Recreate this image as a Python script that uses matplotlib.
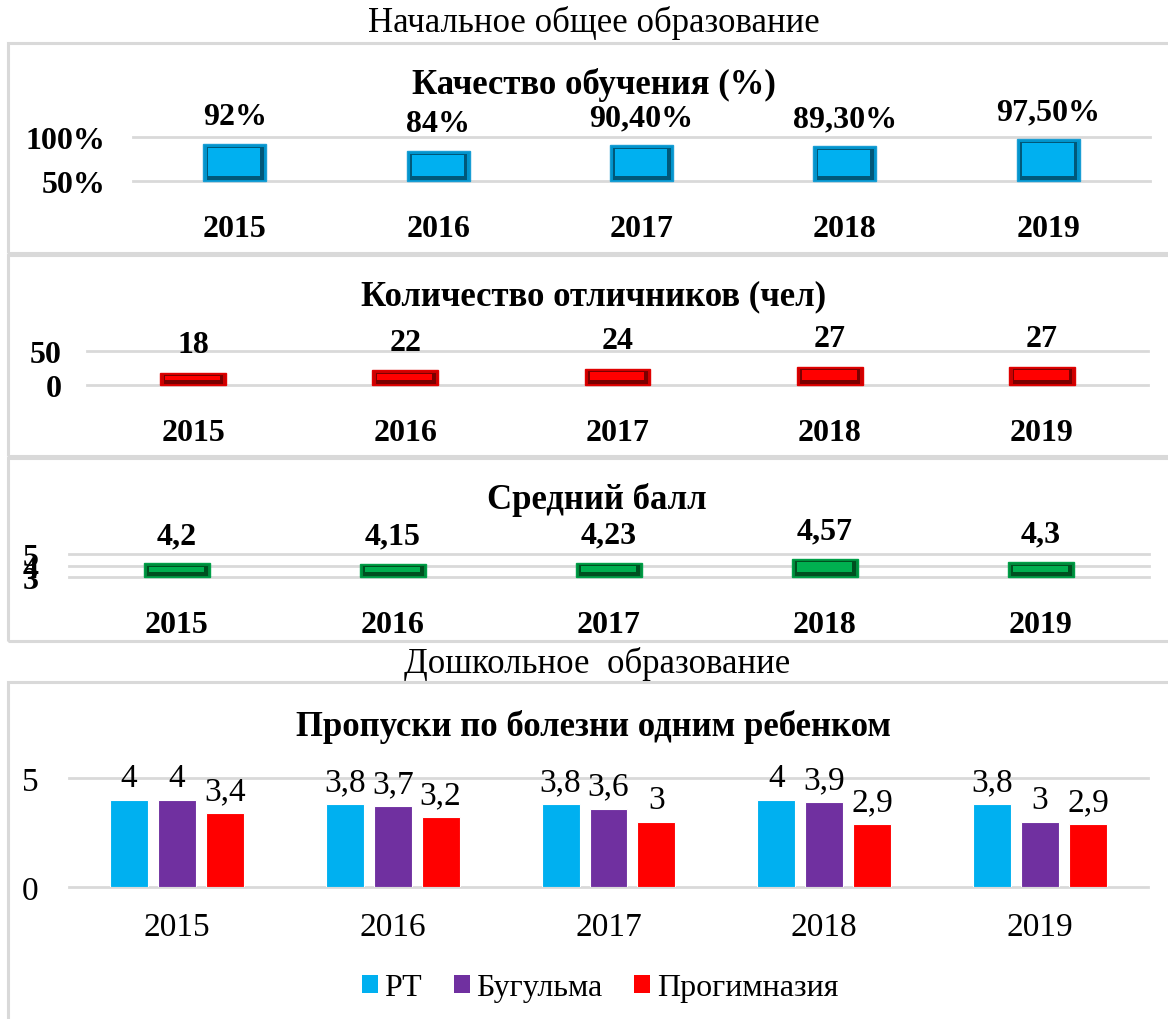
import matplotlib
matplotlib.use('Agg')
import matplotlib.pyplot as plt
from matplotlib.patches import Rectangle, Patch
import numpy as np

# ---------------- data ----------------
years = ['2015', '2016', '2017', '2018', '2019']

quality = [0.92, 0.84, 0.904, 0.893, 0.975]
quality_labels = ['92%', '84%', '90,40%', '89,30%', '97,50%']
quality_ticks = [0.5, 1.0]
quality_ticklabels = ['50%', '100%']

excellent = [18, 22, 24, 27, 27]
excellent_labels = ['18', '22', '24', '27', '27']
excellent_ticks = [0, 50]
excellent_ticklabels = ['0', '50']

avg_score = [4.2, 4.15, 4.23, 4.57, 4.3]
avg_labels = ['4,2', '4,15', '4,23', '4,57', '4,3']
avg_ticks = [3, 4, 5]
avg_ticklabels = ['3', '4', '5']

series_names = ['РТ', 'Бугульма', 'Прогимназия']
rt = [4, 3.8, 3.8, 4, 3.8]
bugulma = [4, 3.7, 3.6, 3.9, 3]
progimn = [3.4, 3.2, 3, 2.9, 2.9]
rt_labels = ['4', '3,8', '3,8', '4', '3,8']
bug_labels = ['4', '3,7', '3,6', '3,9', '3']
prog_labels = ['3,4', '3,2', '3', '2,9', '2,9']
sick_ticks = [0, 5]
sick_ticklabels = ['0', '5']

# ---------------- style ----------------
plt.rcParams['font.family'] = ['Liberation Serif', 'DejaVu Serif']
W, H = 1168, 1020
fig = plt.figure(figsize=(W / 100, H / 100), dpi=100)
fig.patch.set_facecolor('white')

GRID = '#d9d9d9'
CYAN = ('#00b0f0', '#1a9ed4', '#00587a', '#0094cc')
RED = ('#ff0000', '#e00000', '#7a0000', '#cc0000')
GREEN = ('#00b050', '#00a048', '#005020', '#008a3c')
C_CYAN, C_PURPLE, C_RED = '#00b0f0', '#7030a0', '#ff0000'


def add_ax(x0, y0, x1, y1):
    return fig.add_axes([x0 / W, 1 - y1 / H, (x1 - x0) / W, (y1 - y0) / H])


def frame(x0, y0, x1, y1):
    fig.patches.append(Rectangle((x0 / W, 1 - y1 / H), (x1 - x0) / W, (y1 - y0) / H,
                                 transform=fig.transFigure, fill=False,
                                 edgecolor=GRID, lw=2.2, zorder=0))


def style_ax(ax, ticks, ticklabels, ylim, ypad, xpad, bold=True, fs=23):
    ax.set_xlim(-0.5, 4.5)
    ax.set_ylim(*ylim)
    for s in ax.spines.values():
        s.set_visible(False)
    for t in ticks:
        ax.axhline(t, color=GRID, lw=2, clip_on=False, zorder=0)
    ax.set_yticks(ticks, ticklabels)
    ax.set_xticks(range(len(years)), years)
    weight = 'bold' if bold else 'normal'
    ax.tick_params(axis='y', length=0, pad=ypad, labelsize=fs)
    ax.tick_params(axis='x', length=0, pad=xpad, labelsize=fs)
    for lab in ax.get_yticklabels() + ax.get_xticklabels():
        lab.set_fontweight(weight)
    ax.patch.set_alpha(0)


def bevel_bars(ax, vals, base, width, colors, ax_w_px, ax_h_px):
    face, edge, dark, mid = colors
    x = np.arange(len(vals))
    v = np.array(vals, dtype=float)
    lo, hi = ax.get_ylim()
    py = (hi - lo) / ax_h_px          # data units per pixel (y)
    px = 5.0 / ax_w_px                # data units per pixel (x)
    h = v - base
    # outer rim
    ax.bar(x, h, bottom=base, width=width, color=mid, edgecolor=edge, lw=1.0,
           zorder=2, clip_on=False)
    # dark shadow slope (bottom / right)
    ax.bar(x + 0.5 * px, h - 4 * py, bottom=base + 1.5 * py, width=width - 6 * px,
           color=dark, edgecolor='none', zorder=3, clip_on=False)
    # bright face
    ax.bar(x - 0.5 * px, h - 9 * py, bottom=base + 5.5 * py, width=width - 11 * px,
           color=face, edgecolor='none', zorder=4, clip_on=False)
    return x, v


def labels_above(ax, x, v, texts, off, bold=True, fs=23):
    for xi, vi, t in zip(x, v, texts):
        ax.annotate(t, (xi, vi), xytext=(0, off), textcoords='offset points',
                    ha='center', va='center', fontsize=fs,
                    fontweight='bold' if bold else 'normal', annotation_clip=False)


# ---------------- headings ----------------
fig.text(594 / W, 1 - 23 / H, 'Начальное общее образование', ha='center', va='center', fontsize=25)
fig.text(597 / W, 1 - 664 / H, 'Дошкольное  образование', ha='center', va='center', fontsize=25)

# ---------------- panel frames ----------------
frame(8, 44, 1175, 254)
frame(8, 256, 1175, 457)
frame(8, 459, 1175, 642)
frame(8, 683, 1175, 1030)

# ---------------- panel 1: quality ----------------
ax1 = add_ax(133, 138, 1150, 182)
style_ax(ax1, quality_ticks, quality_ticklabels, (0.5, 1.0), ypad=20, xpad=24)
x, v = bevel_bars(ax1, quality, 0.5, 0.31, CYAN, 1017, 44)
labels_above(ax1, x, v, quality_labels, 20)
fig.text(594 / W, 1 - 85 / H, 'Качество обучения (%)', ha='center', va='center',
         fontsize=25, fontweight='bold')

# ---------------- panel 2: excellent students ----------------
ax2 = add_ax(87, 352, 1148, 386)
style_ax(ax2, excellent_ticks, excellent_ticklabels, (0, 50), ypad=18, xpad=24)
x, v = bevel_bars(ax2, excellent, 0, 0.31, RED, 1061, 34)
labels_above(ax2, x, v, excellent_labels, 20)
fig.text(594 / W, 1 - 297 / H, 'Количество отличников (чел)', ha='center', va='center',
         fontsize=25, fontweight='bold')

# ---------------- panel 3: average score ----------------
ax3 = add_ax(69, 555, 1149, 578)
style_ax(ax3, avg_ticks, avg_ticklabels, (3, 5), ypad=22, xpad=24)
x, v = bevel_bars(ax3, avg_score, 3, 0.31, GREEN, 1080, 23)
labels_above(ax3, x, v, avg_labels, 20)
fig.text(597 / W, 1 - 500 / H, 'Средний балл', ha='center', va='center',
         fontsize=25, fontweight='bold')

# ---------------- panel 4: sick days ----------------
ax4 = add_ax(69, 779, 1148, 888)
style_ax(ax4, sick_ticks, sick_ticklabels, (0, 5), ypad=22, xpad=18, bold=False, fs=24)
xg = np.arange(len(years))
off, bw = 0.222, 0.176
for k, (vals, col, labs) in enumerate([(rt, C_CYAN, rt_labels),
                                       (bugulma, C_PURPLE, bug_labels),
                                       (progimn, C_RED, prog_labels)]):
    xs = xg + (k - 1) * off
    ax4.bar(xs, vals, width=bw, color=col, edgecolor='white', lw=0.8, zorder=2)
    for xi, vi, t in zip(xs, vals, labs):
        ax4.annotate(t, (xi, vi), xytext=(0, 5), textcoords='offset points',
                     ha='center', va='bottom', fontsize=24, annotation_clip=False)
fig.text(594 / W, 1 - 727 / H, 'Пропуски по болезни одним ребенком', ha='center', va='center',
         fontsize=25, fontweight='bold')

handles = [Patch(facecolor=c, edgecolor='none') for c in (C_CYAN, C_PURPLE, C_RED)]
fig.legend(handles, series_names, loc='center', bbox_to_anchor=(600 / W, 1 - 989 / H),
           ncol=3, frameon=False, fontsize=23, handlelength=0.5, handleheight=0.5,
           handletextpad=0.2, columnspacing=1.0)

fig.savefig('out.png', dpi=100, facecolor='white')
